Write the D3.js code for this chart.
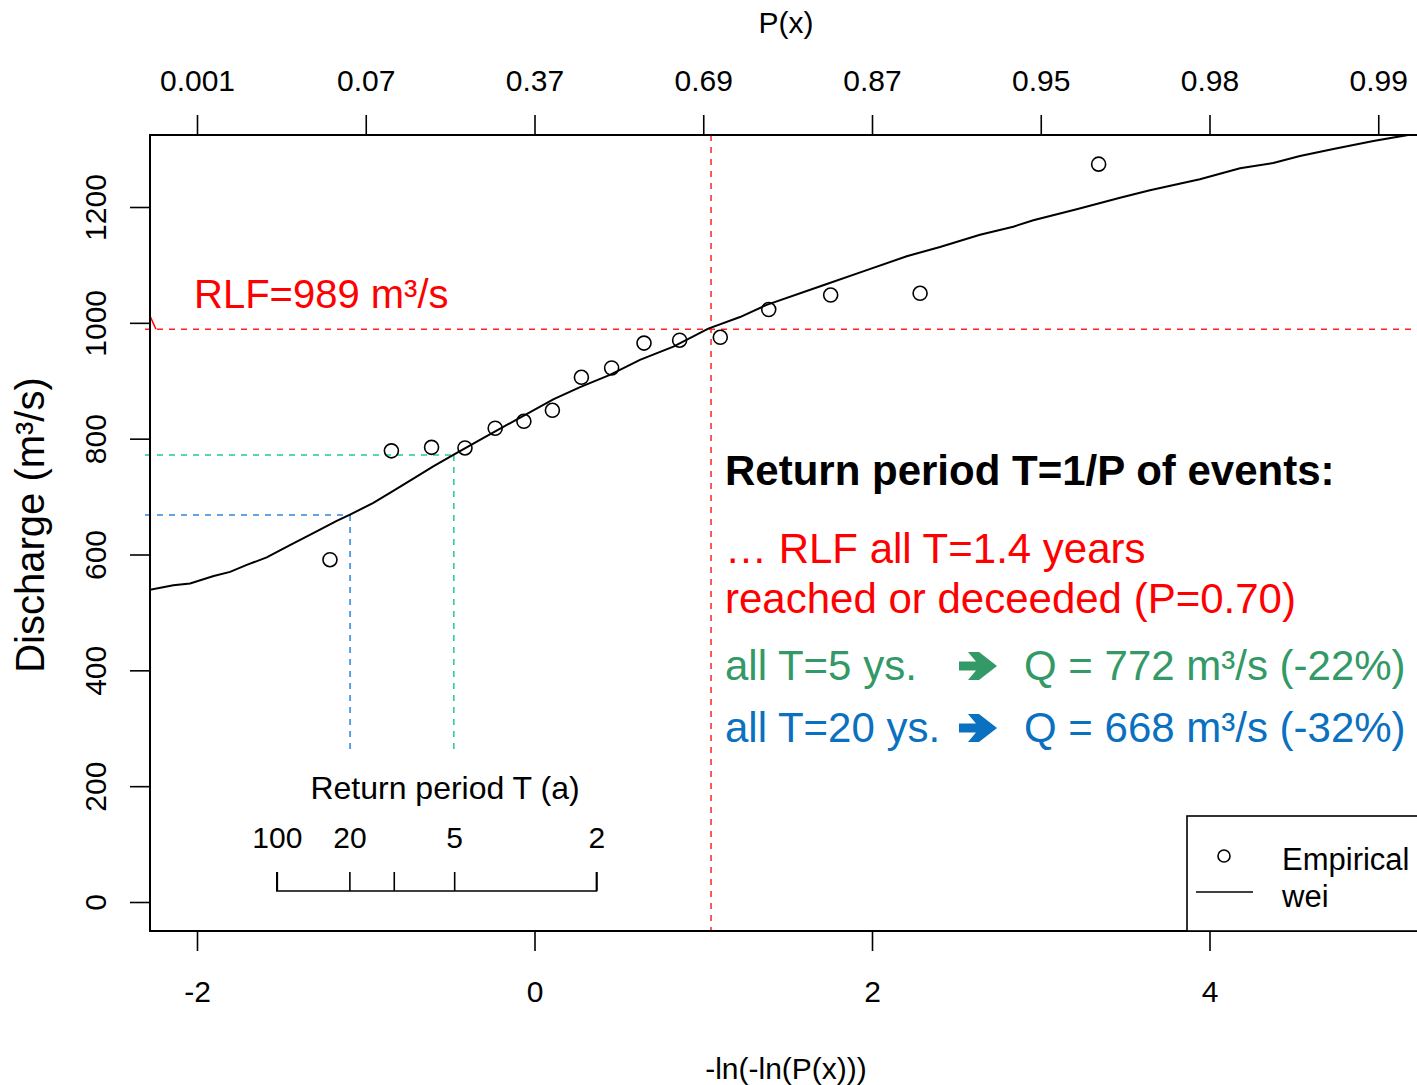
<!DOCTYPE html>
<html><head><meta charset="utf-8">
<script src="https://cdn.jsdelivr.net/npm/d3@7"></script>
<style>
body{margin:0;background:#fff;}
text{font-family:"Liberation Sans",Arial,Helvetica,sans-serif;}
</style></head>
<body><svg id="c" width="1417" height="1085"></svg>
<script>
// ---------- data ----------
const empX = [-1.212,-0.848,-0.610,-0.412,-0.233,-0.063,0.106,0.278,0.457,0.649,0.860,1.101,1.388,1.755,2.285,3.343];
const empQ = [591,779,785,784,818,830,849,906,922,965,970,975,1023,1048,1051,1274];
const weiX = [-2.279,-2.140,-2.041,-1.901,-1.804,-1.705,-1.587,-1.449,-1.311,-1.172,-1.093,-0.955,-0.837,-0.718,-0.600,-0.481,-0.323,0.111,0.270,0.447,0.625,0.823,1.030,1.218,1.376,1.711,1.969,2.206,2.403,2.640,2.837,2.956,3.213,3.470,3.647,3.943,4.181,4.378,4.536,4.734,4.971,5.169,5.26];
const weiQ = [539,547,550,563,570,582,595,616,637,658,669,689,710,731,752,772,798,868,889,910,936,959,990,1010,1031,1065,1091,1115,1131,1152,1166,1177,1196,1216,1229,1248,1267,1276,1288,1300,1314,1324,1330];
const bottomTicks = [-2,0,2,4];
const topTickVals = [-2,-1,0,1,2,3,4,5];
const topTickLabels = ["0.001","0.07","0.37","0.69","0.87","0.95","0.98","0.99"];
const yTicks = [0,200,400,600,800,1000,1200];
const rpVals = [-1.527,-1.097,-0.834,-0.476,0.367];
const rpLabels = ["100","20","","5","2"];
const RLF = 989, RLFx = 1.046;
const T5 = {x:-0.478, q:772};
const T20 = {x:-1.093, q:668};
const refBottom = 257;

// ---------- layout ----------
const svg = d3.select("#c");
const L=150, R=1422, T=135, B=931;
const x = d3.scaleLinear().domain([-2,4]).range([197,1209.5]);
const y = d3.scaleLinear().domain([0,1200]).range([902,207]);
const FS = 30;

svg.append("defs").append("clipPath").attr("id","clip")
  .append("rect").attr("x",L).attr("y",T).attr("width",R-L).attr("height",B-T);

// reference lines
const ref = svg.append("g");
function dashed(x1,y1,x2,y2,col){
  ref.append("line").attr("x1",x1).attr("y1",y1).attr("x2",x2).attr("y2",y2)
   .attr("stroke",col).attr("stroke-width",1.5).attr("stroke-dasharray","6,6");
}
dashed(145,y(RLF),1417,y(RLF),"#ff2020");
dashed(x(RLFx),T,x(RLFx),B,"#ff2020");
dashed(145,y(T5.q),x(T5.x),y(T5.q),"#1cc9a0");
dashed(x(T5.x),y(T5.q),x(T5.x),y(refBottom),"#1cc9a0");
dashed(145,y(T20.q),x(T20.x),y(T20.q),"#2e86d6");
dashed(x(T20.x),y(T20.q),x(T20.x),y(refBottom),"#2e86d6");
ref.append("line").attr("x1",x(-2.279)).attr("y1",y(1012)).attr("x2",x(-2.243)).attr("y2",y(989))
  .attr("stroke","#ff0000").attr("stroke-width",1.5);

// curve
svg.append("path").datum(weiX.map((d,i)=>[d,weiQ[i]]))
  .attr("clip-path","url(#clip)")
  .attr("d",d3.line().x(d=>x(d[0])).y(d=>y(d[1])))
  .attr("fill","none").attr("stroke","#000").attr("stroke-width",2);

// points
svg.append("g").selectAll("circle").data(empX.map((d,i)=>[d,empQ[i]])).join("circle")
  .attr("cx",d=>x(d[0])).attr("cy",d=>y(d[1])).attr("r",7)
  .attr("fill","none").attr("stroke","#000").attr("stroke-width",1.6);

// frame
svg.append("rect").attr("x",L).attr("y",T).attr("width",R-L).attr("height",B-T)
  .attr("fill","none").attr("stroke","#000").attr("stroke-width",2);

// axes
function styleAxis(g){
  g.select(".domain").remove();
  g.selectAll("line").attr("stroke","#000").attr("stroke-width",1.6);
  g.selectAll("text").attr("font-size",FS).attr("fill","#000").attr("font-family","Liberation Sans, Arial, sans-serif");
}
svg.append("g").attr("transform",`translate(0,${B})`)
  .call(d3.axisBottom(x).tickValues(bottomTicks).tickSize(20).tickPadding(30).tickFormat(d=>String(d)))
  .call(styleAxis);
svg.append("g").attr("transform",`translate(0,${T})`)
  .call(d3.axisTop(x).tickValues(topTickVals).tickSize(20).tickPadding(24).tickFormat((d,i)=>topTickLabels[i]))
  .call(styleAxis);
const ya = svg.append("g").attr("transform",`translate(${L},0)`)
  .call(d3.axisLeft(y).tickValues(yTicks).tickSize(20).tickFormat(d=>String(d)))
  .call(styleAxis);
ya.selectAll("text").attr("transform","rotate(-90)").attr("x",0).attr("y",-44).attr("dy",0).attr("text-anchor","middle");

// axis titles
svg.append("text").attr("x",786).attr("y",33).attr("text-anchor","middle").attr("font-size",FS).text("P(x)");
svg.append("text").attr("x",786).attr("y",1079).attr("text-anchor","middle").attr("font-size",FS).text("-ln(-ln(P(x)))");
svg.append("text").attr("transform","translate(44,525) rotate(-90)").attr("text-anchor","middle").attr("font-size",40).text("Discharge (m³/s)");

// return period mini axis
const rpY = y(19);
const rp = svg.append("g").attr("transform",`translate(0,${rpY})`)
  .call(d3.axisTop(x).tickValues(rpVals).tickSize(19).tickPadding(24).tickFormat((d,i)=>rpLabels[i]));
rp.select(".domain").attr("d",`M${x(rpVals[0])},-19V0H${x(rpVals[4])}V-19`).attr("stroke","#000").attr("stroke-width",1.6).attr("fill","none");
rp.selectAll("line").attr("stroke","#000").attr("stroke-width",1.6);
rp.selectAll("text").attr("font-size",FS).attr("fill","#000").attr("font-family","Liberation Sans, Arial, sans-serif");
svg.append("text").attr("x",445).attr("y",799).attr("text-anchor","middle").attr("font-size",32).text("Return period T (a)");

// legend
svg.append("rect").attr("x",1187).attr("y",816).attr("width",260).attr("height",B-816)
  .attr("fill","#fff").attr("stroke","#000").attr("stroke-width",1.6);
svg.append("circle").attr("cx",1224).attr("cy",856).attr("r",6).attr("fill","none").attr("stroke","#000").attr("stroke-width",1.6);
svg.append("line").attr("x1",1196).attr("x2",1253).attr("y1",892).attr("y2",892).attr("stroke","#000").attr("stroke-width",1.6);
svg.append("text").attr("x",1282).attr("y",870).attr("font-size",31).text("Empirical");
svg.append("text").attr("x",1282).attr("y",907).attr("font-size",31).text("wei");

// annotations
const AF = 42;
svg.append("text").attr("x",194).attr("y",308).attr("font-size",40).attr("fill","#ff0000").text("RLF=989 m³/s");
svg.append("text").attr("x",725).attr("y",485).attr("font-size",AF).attr("font-weight","bold").attr("fill","#000").text("Return period T=1/P of events:");
svg.append("text").attr("x",725).attr("y",563).attr("font-size",AF).attr("fill","#ff0000").text("… RLF all T=1.4 years");
svg.append("text").attr("x",725).attr("y",613).attr("font-size",AF).attr("fill","#ff0000").text("reached or deceeded (P=0.70)");
const lines = [{y:680,c:"#339966",a:"all T=5 ys.",b:"Q = 772 m³/s (-22%)"},{y:742,c:"#0a70c0",a:"all T=20 ys.",b:"Q = 668 m³/s (-32%)"}];
lines.forEach(l=>{
  svg.append("text").attr("x",725).attr("y",l.y).attr("font-size",AF).attr("fill",l.c).text(l.a);
  svg.append("text").attr("x",1024).attr("y",l.y).attr("font-size",AF).attr("fill",l.c).text(l.b);
  const ax=959, ay=l.y-14;
  svg.append("path").attr("transform",`translate(${ax},${ay})`)
    .attr("d","M0,-4.5H17L9,-14H20L38,0L20,14H9L17,4.5H0Z").attr("fill",l.c);
});
</script></body></html>
